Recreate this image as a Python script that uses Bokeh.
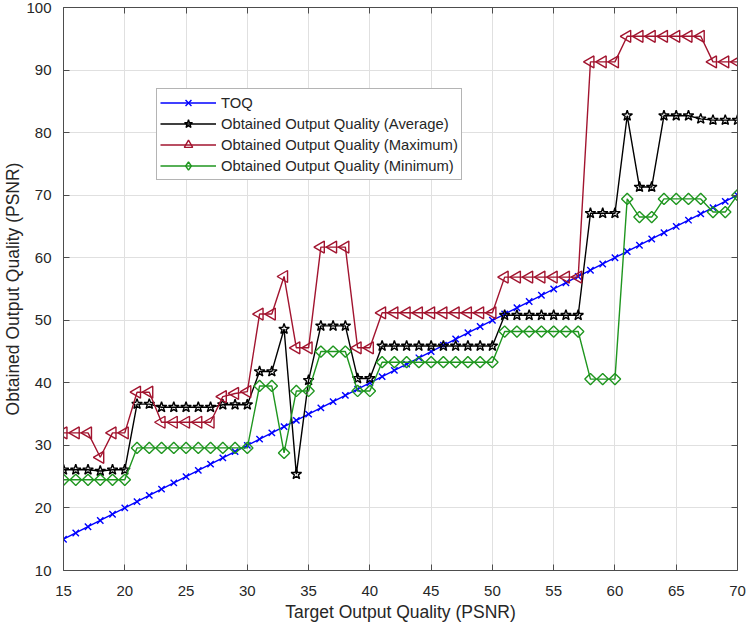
import math
from bokeh.plotting import figure
from bokeh.models import LinearAxis, SingleIntervalTicker, Range1d, Legend, LegendItem
from bokeh.embed import file_html
from bokeh.resources import INLINE

# ---------------- data ----------------
target = list(range(15, 71))

toq = [15, 16, 17, 18, 19, 20, 21, 22, 23, 24, 25, 26, 27, 28, 29, 30,
       31, 32, 33, 34, 35, 36, 37, 38, 39, 40, 41, 42, 43, 44, 45, 46,
       47, 48, 49, 50, 51, 52, 53, 54, 55, 56, 57, 58, 59, 60, 61, 62,
       63, 64, 65, 66, 67, 68, 69, 70]

avg_q = [26.1, 26.1, 26.1, 25.9, 26.1, 26.1,
         36.6, 36.6, 36.1, 36.1, 36.1, 36.1, 36.1, 36.5, 36.5, 36.5,
         41.8, 41.8, 48.6, 25.4, 40.4, 49.1, 49.1, 49.1, 40.7, 40.7,
         45.9, 45.9, 45.9, 45.9, 45.9, 45.9, 45.9, 45.9, 45.9, 45.9,
         50.8, 50.8, 50.8, 50.8, 50.8, 50.8, 50.8,
         67.1, 67.1, 67.1,
         82.7, 71.3, 71.3, 82.7, 82.7, 82.7, 82.2, 82.0, 82.0, 82.0]

max_q = [32.0, 32.0, 32.0, 28.1, 32.0, 32.0,
         38.5, 38.5, 33.7, 33.7, 33.7, 33.7, 33.7, 37.8, 38.3, 38.6,
         51.0, 51.0, 57.0, 45.6, 45.6, 61.7, 61.7, 61.7, 45.6, 45.6,
         51.2, 51.2, 51.2, 51.2, 51.2, 51.2, 51.2, 51.2, 51.2, 51.2,
         56.9, 56.9, 56.9, 56.9, 56.9, 56.9, 56.9,
         91.3, 91.3, 91.3,
         95.4, 95.4, 95.4, 95.4, 95.4, 95.4, 95.4,
         91.3, 91.3, 91.3]

min_q = [24.5, 24.5, 24.5, 24.5, 24.5, 24.5,
         29.6, 29.6, 29.6, 29.6, 29.6, 29.6, 29.6, 29.6, 29.6, 29.6,
         39.5, 39.5, 28.8, 38.7, 38.7, 45.0, 45.0, 45.0, 38.7, 38.7,
         43.3, 43.3, 43.3, 43.3, 43.3, 43.3, 43.3, 43.3, 43.3, 43.3,
         48.2, 48.2, 48.2, 48.2, 48.2, 48.2, 48.2,
         40.6, 40.6, 40.6,
         69.4, 66.5, 66.5, 69.4, 69.4, 69.4, 69.4, 67.3, 67.3, 70.0]

labels = ["TOQ",
          "Obtained Output Quality (Average)",
          "Obtained Output Quality (Maximum)",
          "Obtained Output Quality (Minimum)"]

# ---------------- figure ----------------
FONT = "Liberation Sans"
TXT = "#262626"
AX = "#4d4d4d"

p = figure(width=747, height=629, output_backend="svg", toolbar_location=None,
           x_range=Range1d(15, 70), y_range=Range1d(10, 100),
           min_border_left=57, min_border_right=10, min_border_top=7,
           min_border_bottom=59)
p.outline_line_color = None
p.background_fill_color = "white"

for ax in (p.xaxis[0], p.yaxis[0]):
    ax.axis_line_color = AX
    ax.major_tick_line_color = AX
    ax.major_tick_in = 6
    ax.major_tick_out = 0
    ax.minor_tick_line_color = None
    ax.major_label_text_font = FONT
    ax.major_label_text_font_size = "15px"
    ax.major_label_text_color = TXT
    ax.axis_label_text_font = FONT
    ax.axis_label_text_font_size = "17.5px"
    ax.axis_label_text_font_style = "normal"
    ax.axis_label_text_color = TXT

p.xaxis[0].ticker = SingleIntervalTicker(interval=5)
p.yaxis[0].ticker = SingleIntervalTicker(interval=10)
p.xaxis[0].axis_label = "Target Output Quality (PSNR)"
p.yaxis[0].axis_label = "Obtained Output Quality (PSNR)"
p.xaxis[0].major_label_standoff = 11
p.yaxis[0].major_label_standoff = 8
p.xaxis[0].axis_label_standoff = 3
p.yaxis[0].axis_label_standoff = 0

for loc, step in (("right", 10), ("above", 5)):
    a = LinearAxis(ticker=SingleIntervalTicker(interval=step))
    a.axis_line_color = AX
    a.major_tick_line_color = AX
    a.major_tick_in = 6
    a.major_tick_out = 0
    a.minor_tick_line_color = None
    a.major_label_text_color = None
    a.major_label_text_font_size = "1px"
    a.major_label_standoff = 0
    p.add_layout(a, loc)

p.xgrid.ticker = SingleIntervalTicker(interval=5)
p.ygrid.ticker = SingleIntervalTicker(interval=10)
p.grid.grid_line_color = "#e0e0e0"
p.grid.grid_line_width = 1

# ---------------- series ----------------
LW = 1.4
blue = "#0000ff"
black = "#000000"
red = "#A2142F"
green = "#1f961f"

p.line(target, toq, line_color=blue, line_width=LW)
p.scatter(target, toq, marker="x", size=9, line_color=blue, line_width=LW)

p.line(target, avg_q, line_color=black, line_width=LW)
p.scatter(target, avg_q, marker="star", size=11, line_color=black,
          fill_color=None, line_width=LW)

p.line(target, max_q, line_color=red, line_width=LW)
p.scatter(target, max_q, marker="triangle", angle=math.pi / 2, size=12,
          line_color=red, fill_color=None, line_width=LW)

p.line(target, min_q, line_color=green, line_width=LW)
p.scatter(target, min_q, marker="square", angle=math.pi / 4, size=8,
          line_color=green, fill_color=None, line_width=LW)

# legend-only renderers holding one NaN point (not visible in the plot)
nan = float("nan")
leg_specs = [(blue, "x"), (black, "star"), (red, "triangle"), (green, "diamond")]
items = []
for lab, (col, mk) in zip(labels, leg_specs):
    lr = p.line([nan], [nan], line_color=col, line_width=LW)
    sr = p.scatter([nan], [nan], marker=mk, size=10, line_color=col,
                   fill_color=None, line_width=LW)
    items.append(LegendItem(label=lab, renderers=[lr, sr]))

lg = Legend(items=items, location=(93, 390))
lg.margin = 0
lg.padding = 3
lg.spacing = 0
lg.label_height = 21
lg.glyph_height = 21
lg.glyph_width = 56
lg.label_standoff = 5
lg.label_text_font = FONT
lg.label_text_font_size = "14.8px"
lg.label_text_color = TXT
lg.border_line_color = "#6a6a6a"
lg.border_line_width = 1
lg.background_fill_color = "white"
lg.background_fill_alpha = 1.0
p.add_layout(lg, "center")

open("out.html", "w").write(file_html(p, INLINE))
